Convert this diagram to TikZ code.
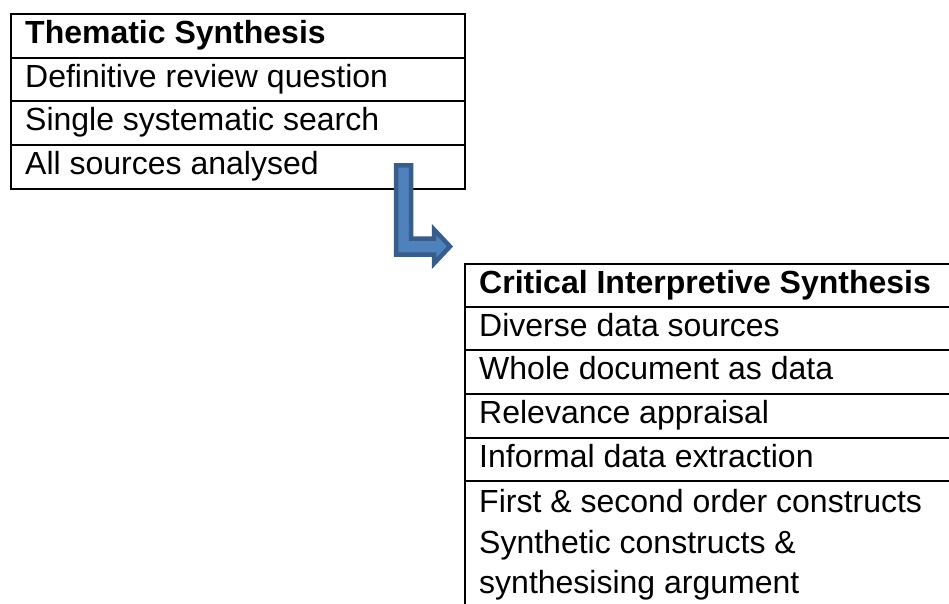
\documentclass[tikz,border=0pt]{standalone}
\usepackage{fontspec}
\setmainfont{Liberation Sans}
\definecolor{arrowfill}{HTML}{4F81BD}
\definecolor{arrowline}{HTML}{385D8A}
\begin{document}
\begin{tikzpicture}[x=1pt,y=-1pt,
  cell/.style={draw=black,line width=1.6pt,rectangle,inner sep=0pt,anchor=north west},
  txt/.style={anchor=base west,inner sep=0pt,font=\fontsize{32}{38}\selectfont},
  headtxt/.style={txt,font=\fontsize{32}{38}\selectfont\bfseries},
  bentarrow/.style={fill=arrowfill,draw=arrowline,line width=4.5pt,line join=miter}]
\useasboundingbox (0,0) rectangle (949,604);
\clip (0,0) rectangle (949,604);
% Table 1
\node[cell,minimum width=454pt,minimum height=44pt] (t1r0) at (10,13) {};
\node[cell,minimum width=454pt,minimum height=43pt] (t1r1) at (10,57) {};
\node[cell,minimum width=454pt,minimum height=44pt] (t1r2) at (10,100) {};
\node[cell,minimum width=454pt,minimum height=44pt] (t1r3) at (10,144) {};
\node[headtxt] (t1h) at (25,44) {Thematic Synthesis};
\node[txt] (t1a) at (25,87.5) {Definitive review question};
\node[txt] (t1b) at (25,131) {Single systematic search};
\node[txt] (t1c) at (25,175) {All sources analysed};
% Table 2
\node[cell,minimum width=500pt,minimum height=43pt] (t2r0) at (464,263) {};
\node[cell,minimum width=500pt,minimum height=43pt] (t2r1) at (464,306) {};
\node[cell,minimum width=500pt,minimum height=44pt] (t2r2) at (464,349) {};
\node[cell,minimum width=500pt,minimum height=44pt] (t2r3) at (464,393) {};
\node[cell,minimum width=500pt,minimum height=43pt] (t2r4) at (464,437) {};
\node[cell,minimum width=500pt,minimum height=140pt] (t2r5) at (464,480) {};
\node[headtxt] (t2h) at (479,293) {Critical Interpretive Synthesis};
\node[txt] (t2a) at (479,336) {Diverse data sources};
\node[txt] (t2b) at (479,379) {Whole document as data};
\node[txt] (t2c) at (479,423) {Relevance appraisal};
\node[txt] (t2d) at (479,467) {Informal data extraction};
\node[txt] (t2e) at (479,512) {First \& second order constructs};
\node[txt] (t2f) at (479,553) {Synthetic constructs \&};
\node[txt] (t2g) at (479,593) {synthesising argument};
% Bent arrow from table 1 to table 2
\draw[bentarrow] (396,165.5) -- (411,165.5) -- (411,238.5) -- (434,238.5)
  -- (434,229.5) -- (450,246.5) -- (434,263.5) -- (434,254.5) -- (396,254.5) -- cycle;
\end{tikzpicture}
\end{document}
